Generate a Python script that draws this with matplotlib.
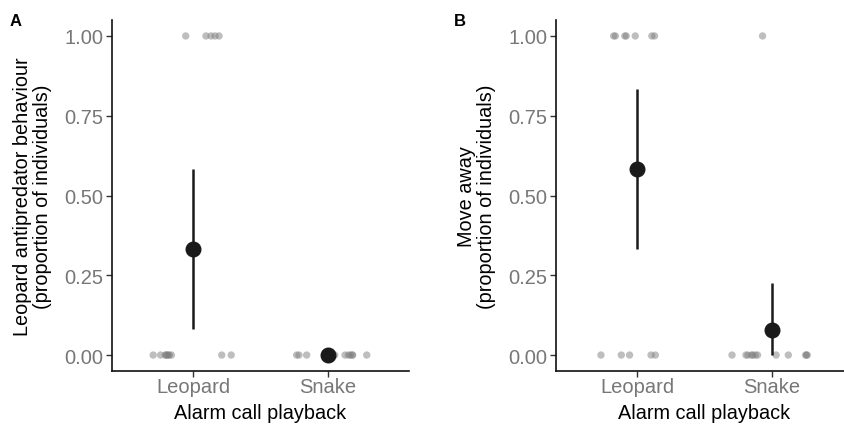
import numpy as np
import matplotlib.pyplot as plt

plt.rcParams['font.family'] = ['Liberation Sans', 'DejaVu Sans']

# ----------------------------
# Data
# ----------------------------
categories = ["Leopard", "Snake"]

# panel A: leopard antipredator behaviour (0/1 per individual, jitter offsets in category units)
a_leopard_y = [1] * 5 + [0] * 10
a_leopard_jit = [-0.054, 0.096, 0.133, 0.163, 0.193,
                 -0.295, -0.24, -0.205, -0.2, -0.19, -0.185, -0.175, -0.16, 0.213, 0.283]
a_snake_y = [0] * 11
a_snake_jit = [-0.232, -0.215, -0.158, -0.01, 0.05, 0.126, 0.151, 0.165, 0.18, 0.182, 0.287]
a_mean = [0.333, 0.0]
a_low = [0.083, 0.0]
a_high = [0.583, 0.0]

# panel B: move away
b_leopard_y = [1] * 7 + [0] * 5
b_leopard_jit = [-0.173, -0.16, -0.09, -0.08, -0.013, 0.11, 0.13,
                 -0.267, -0.116, -0.055, 0.104, 0.136]
b_snake_y = [1] + [0] * 12
b_snake_jit = [-0.07,
               -0.296, -0.193, -0.178, -0.15, -0.144, -0.124, -0.107, 0.03, 0.121, 0.249, 0.255, 0.261]
b_mean = [0.583, 0.077]
b_low = [0.333, 0.0]
b_high = [0.833, 0.225]

ytick_vals = [0.0, 0.25, 0.5, 0.75, 1.0]


def draw_panel(ax, groups, mean, low, high, ylabel, tag):
    for i, (ys, jit) in enumerate(groups):
        ax.scatter(np.array(jit) + i + 1, ys, s=28, color="#7f7f7f", alpha=0.5,
                   edgecolors="none", zorder=2)
    x = np.arange(1, len(categories) + 1)
    ax.vlines(x, low, high, color="#1a1a1a", lw=1.8, zorder=3)
    ax.plot(x, mean, "o", color="#1a1a1a", ms=10.5, zorder=4)

    ax.set_xlim(0.4, 2.6)
    ax.set_ylim(-0.05, 1.05)
    ax.set_xticks(x)
    ax.set_xticklabels(categories)
    ax.set_yticks(ytick_vals)
    ax.set_yticklabels([f"{v:.2f}" for v in ytick_vals])
    ax.tick_params(labelsize=14.5, labelcolor="#777777", color="#333333",
                   length=4, width=1, pad=2)
    ax.tick_params(axis="x", pad=0.5)
    for s in ["top", "right"]:
        ax.spines[s].set_visible(False)
    for s in ["left", "bottom"]:
        ax.spines[s].set_linewidth(1.2)
        ax.spines[s].set_color("#111111")
    ax.set_xlabel("Alarm call playback", fontsize=14.3, labelpad=5)
    ax.set_ylabel(ylabel, fontsize=14.3, labelpad=9, linespacing=1.1)
    ax.text(-0.345, 1.0, tag, transform=ax.transAxes, fontsize=12,
            fontweight="bold", va="center", ha="left")


fig = plt.figure(figsize=(8.44, 4.31), dpi=100)
ax1 = fig.add_axes([112 / 844, 59 / 431, 297 / 844, 351 / 431])
ax2 = fig.add_axes([556 / 844, 59 / 431, 297 / 844, 351 / 431])

draw_panel(ax1, [(a_leopard_y, a_leopard_jit), (a_snake_y, a_snake_jit)],
           a_mean, a_low, a_high,
           "Leopard antipredator behaviour\n(proportion of individuals)", "A")
draw_panel(ax2, [(b_leopard_y, b_leopard_jit), (b_snake_y, b_snake_jit)],
           b_mean, b_low, b_high,
           "Move away\n(proportion of individuals)", "B")

plt.savefig("out.png", dpi=100)
plt.close()
